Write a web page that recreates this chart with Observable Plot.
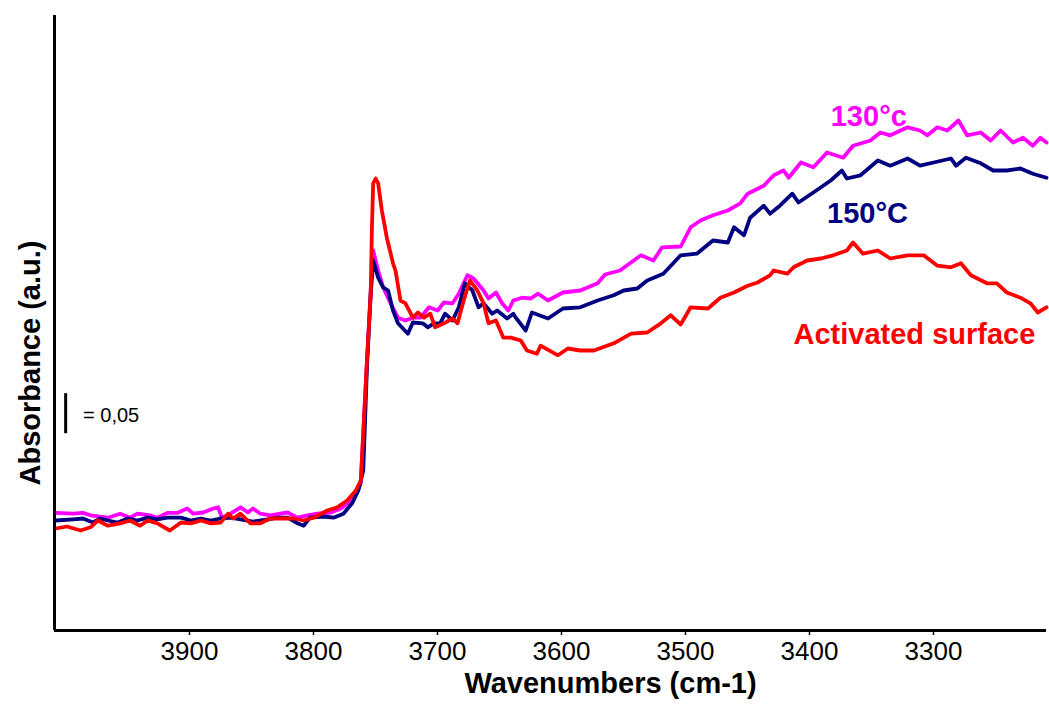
<!DOCTYPE html>
<html>
<head>
<meta charset="utf-8">
<script src="https://cdn.jsdelivr.net/npm/d3@7"></script>
<script src="https://cdn.jsdelivr.net/npm/@observablehq/plot@0.6"></script>
<style>
  html, body { margin: 0; padding: 0; background: #fff; }
  #chart { width: 1049px; height: 707px; }
</style>
</head>
<body>
<div id="chart"></div>
<script>
// ---- data (wavenumber in cm-1, absorbance in a.u.) ----
const wn130 = [3999,3985,3977,3971,3957,3947,3939,3933,3923,3917,3909,3901,3893,3888,3880,3872,3868,3865,3858,3850,3844,3840,3834,3826,3818,3812,3804,3796,3788,3777,3769,3761,3756,3753,3748,3745,3743,3739,3735,3729,3723,3717,3711,3705,3698,3691,3686,3679,3674,3667,3662,3654,3650,3644,3639,3634,3630,3623,3616,3610,3602,3590,3576,3562,3556,3544,3527,3517,3510,3495,3487,3479,3469,3457,3447,3441,3428,3420,3412,3408,3398,3388,3377,3364,3356,3342,3334,3326,3312,3302,3296,3288,3280,3271,3264,3253,3245,3237,3227,3219,3211,3205,3200];
const ab130 = [0.147,0.146,0.147,0.144,0.141,0.146,0.141,0.146,0.144,0.141,0.147,0.147,0.1525,0.146,0.1475,0.1525,0.154,0.141,0.146,0.154,0.1475,0.1525,0.146,0.144,0.146,0.1475,0.141,0.144,0.146,0.1475,0.1525,0.1625,0.1725,0.184,0.3375,0.425,0.475,0.45,0.429,0.409,0.391,0.3875,0.391,0.391,0.404,0.40,0.41,0.409,0.421,0.444,0.44,0.425,0.415,0.4225,0.409,0.40,0.4125,0.416,0.415,0.421,0.4125,0.4225,0.425,0.434,0.445,0.45,0.469,0.4625,0.479,0.48,0.504,0.5125,0.519,0.525,0.534,0.546,0.556,0.569,0.575,0.566,0.585,0.579,0.5975,0.591,0.606,0.6125,0.6225,0.619,0.629,0.625,0.619,0.629,0.625,0.6375,0.619,0.6225,0.6125,0.625,0.61,0.616,0.606,0.616,0.61];

const wn150 = [3999,3985,3977,3969,3963,3957,3949,3941,3933,3925,3917,3909,3898,3890,3882,3874,3866,3858,3850,3840,3828,3820,3812,3804,3799,3794,3783,3775,3767,3760,3755,3751,3748,3745,3743,3739,3735,3731,3727,3723,3715,3711,3703,3699,3694,3689,3685,3679,3674,3669,3663,3658,3654,3647,3643,3635,3630,3628,3620,3615,3602,3590,3576,3562,3549,3541,3530,3522,3509,3495,3482,3469,3457,3452,3444,3439,3428,3423,3415,3405,3400,3388,3374,3365,3361,3350,3336,3326,3312,3302,3291,3277,3273,3265,3253,3243,3232,3221,3211,3200];
const ab150 = [0.1375,0.139,0.14,0.135,0.14,0.1375,0.135,0.14,0.1375,0.141,0.139,0.141,0.141,0.1375,0.14,0.1375,0.14,0.141,0.139,0.136,0.139,0.141,0.141,0.134,0.131,0.141,0.1425,0.141,0.146,0.159,0.175,0.2,0.33,0.42,0.4625,0.441,0.429,0.425,0.40,0.384,0.371,0.385,0.384,0.379,0.384,0.384,0.396,0.3875,0.404,0.434,0.425,0.404,0.409,0.396,0.40,0.39,0.396,0.391,0.375,0.3975,0.39,0.4025,0.404,0.4125,0.419,0.425,0.4275,0.4375,0.446,0.469,0.471,0.4875,0.485,0.504,0.494,0.516,0.531,0.521,0.531,0.546,0.535,0.5475,0.5625,0.575,0.565,0.569,0.5875,0.581,0.59,0.581,0.585,0.59,0.581,0.591,0.584,0.575,0.575,0.5775,0.571,0.566];

const wnAct = [3999,3990,3979,3971,3965,3957,3947,3939,3931,3925,3917,3907,3898,3890,3882,3874,3866,3860,3856,3850,3842,3834,3826,3815,3807,3799,3791,3780,3772,3764,3757,3753,3748,3745,3744,3743,3741,3739,3736,3732,3727,3725,3721,3717,3711,3707,3702,3697,3693,3686,3679,3675,3670,3665,3659,3654,3650,3644,3638,3632,3624,3619,3611,3608,3594,3586,3576,3565,3549,3535,3522,3511,3503,3495,3487,3473,3463,3452,3441,3433,3423,3420,3409,3404,3393,3382,3372,3361,3356,3348,3336,3326,3312,3299,3288,3277,3269,3261,3248,3240,3232,3221,3213,3207,3200];
const abAct = [0.1275,0.13,0.125,0.129,0.1375,0.131,0.134,0.1375,0.131,0.1375,0.134,0.125,0.135,0.134,0.1375,0.134,0.135,0.146,0.14,0.146,0.134,0.134,0.14,0.14,0.14,0.1375,0.141,0.15,0.154,0.1625,0.175,0.1875,0.3375,0.421,0.504,0.559,0.565,0.559,0.525,0.491,0.459,0.45,0.4125,0.409,0.391,0.3975,0.391,0.396,0.379,0.384,0.39,0.384,0.4125,0.4375,0.425,0.409,0.384,0.3875,0.366,0.366,0.3625,0.35,0.346,0.356,0.344,0.3525,0.35,0.35,0.359,0.371,0.3725,0.384,0.394,0.3825,0.404,0.4025,0.416,0.4225,0.431,0.435,0.444,0.45,0.446,0.454,0.4625,0.465,0.469,0.475,0.485,0.471,0.475,0.465,0.469,0.469,0.456,0.454,0.459,0.444,0.434,0.434,0.4225,0.416,0.409,0.3975,0.404];

const seriesNames = ["130°c", "150°C", "Activated surface"];
const seriesColors = ["#FF00FF", "#000080", "#FF0000"];
const labelX = [3374, 3377, 3404];
const labelY = [0.6425, 0.521, 0.37];

const xTicks = [3900, 3800, 3700, 3600, 3500, 3400, 3300, 3200];
const xTickLabels = ["3900", "3800", "3700", "3600", "3500", "3400", "3300", ""];
const xDomain = [4000, 3200];
const yDomain = [0, 0.76875];

const scaleBarX = [3991];
const scaleBarY = [0.246, 0.296];
const scaleBarText = "= 0,05";
const scaleBarTextPos = [3977, 0.269];

const xTitle = "Wavenumbers (cm-1)";
const yTitle = "Absorbance (a.u.)";

// ---- build ----
const toRows = (wn, ab, name) => wn.map((w, i) => ({wn: w, ab: ab[i], series: name}));
const rows = [
  ...toRows(wn130, ab130, seriesNames[0]),
  ...toRows(wn150, ab150, seriesNames[1]),
  ...toRows(wnAct, abAct, seriesNames[2])
];
const labels = seriesNames.map((s, i) => ({s, x: labelX[i], y: labelY[i], c: seriesColors[i]}));
const font = "'Liberation Sans', Arial, sans-serif";

const chart = Plot.plot({
  width: 1049,
  height: 707,
  marginLeft: 54,
  marginRight: 3,
  marginTop: 15,
  marginBottom: 77,
  style: {fontFamily: font, fontSize: "26px", color: "#000", background: "#fff"},
  x: {domain: xDomain, label: null},
  y: {domain: yDomain, axis: null, label: null},
  color: {domain: seriesNames, range: seriesColors},
  marks: [
    Plot.axisX({ticks: xTicks, tickFormat: (d) => xTickLabels[xTicks.indexOf(d)], tickSize: 5, tickPadding: 6, dx: 11, fontSize: 26, stroke: "#000", strokeWidth: 1.5}),
    Plot.line(rows, {x: "wn", y: "ab", z: "series", stroke: "series", strokeWidth: 3.8, strokeLinejoin: "round", strokeLinecap: "round"}),
    Plot.ruleY([yDomain[0]], {stroke: "#000", strokeWidth: 3}),
    Plot.ruleX([xDomain[0]], {stroke: "#000", strokeWidth: 3}),
    Plot.ruleX(scaleBarX, {y1: scaleBarY[0], y2: scaleBarY[1], stroke: "#000", strokeWidth: 3}),
    Plot.text([scaleBarText], {x: scaleBarTextPos[0], y: scaleBarTextPos[1], text: d => d, textAnchor: "start", fontSize: 20, fill: "#000"}),
    Plot.text(labels, {x: "x", y: "y", text: "s", fill: "c", textAnchor: "start", fontSize: 29, fontWeight: "bold"}),
    Plot.text([xTitle], {frameAnchor: "bottom", dy: 62, dx: 60, fontSize: 29, fontWeight: "bold", fill: "#000"}),
    Plot.text([yTitle], {frameAnchor: "left", textAnchor: "middle", rotate: -90, dx: -24, dy: 40, fontSize: 29, fontWeight: "bold", fill: "#000"})
  ]
});
document.getElementById("chart").appendChild(chart);
</script>
</body>
</html>
